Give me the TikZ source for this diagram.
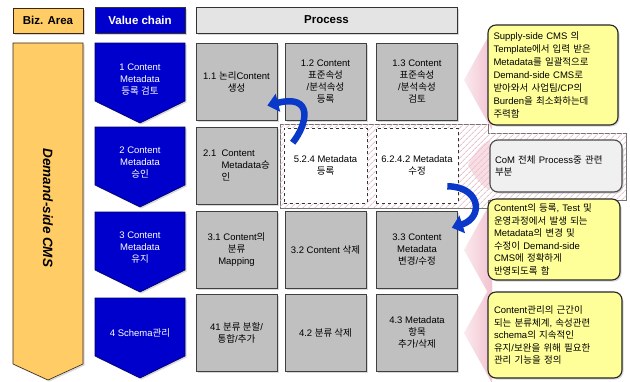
\documentclass[tikz,border=0pt]{standalone}
\usepackage{fontspec}
\setmainfont{Liberation Sans}
\newfontfamily\kr{Noto Sans CJK KR}
\usetikzlibrary{arrows.meta,shadows,patterns.meta,calc}
\newcommand\hk[1]{{\kr #1}}
\definecolor{orng}{HTML}{FFCC66}
\definecolor{vblue}{HTML}{0000CC}
\definecolor{cellgray}{HTML}{C0C0C0}
\definecolor{hdrgray}{HTML}{E4E4E4}
\definecolor{yel}{HTML}{FFFF99}
\definecolor{pinkc}{HTML}{F2C2CF}
\definecolor{hatchc}{HTML}{E6C6CE}
\definecolor{arrblue}{HTML}{0A38C8}
\definecolor{comgray}{HTML}{F0F0F0}
\begin{document}
\begin{tikzpicture}[x=1pt,y=-1pt,
  font=\fontsize{9.5}{12}\selectfont,
  shd/.style={drop shadow={shadow xshift=1.5pt,shadow yshift=-1.5pt,fill=black!30}},
  hdr/.style={draw=black!80, line width=0.6pt, font=\fontsize{11.5}{13}\selectfont\bfseries, inner sep=0pt, shd},
  cell/.style={draw=black!75, fill=cellgray, line width=0.6pt, minimum width=81pt, minimum height=77pt, inner sep=1pt, align=center, shd},
  dcell/.style={draw=black!80, dashed, fill=white, line width=0.6pt, minimum height=75pt, inner sep=1pt, align=center},
  chev/.style={draw=black!60!blue, fill=vblue, line width=0.6pt, shd},
  chevtext/.style={text=white, align=center, inner sep=0pt},
  note/.style={draw=black!85, fill=yel, line width=1.1pt, rounded corners=8pt, align=left, inner sep=0pt, font=\fontsize{9.5}{12.5}\selectfont, shd},
  pinkarrow/.style={left color=pinkc!35, right color=pinkc},
  barrow/.style={draw=arrblue, line width=6.5pt, -{Triangle[width=18pt,length=11pt]}}
]
\useasboundingbox (0,0) rectangle (630,381);
\fill[white] (0,0) rectangle (630,381);

% pink arrows behind the notes
\foreach \yc in {80,250,333}{
  \shade[pinkarrow] (464,\yc) -- (492,\yc-50) -- (492,\yc+50) -- cycle;
}

% hatched region
\path[draw=black!55, line width=0.6pt, fill=white] (280,124) -- (488,124) -- (488,133) -- (626,133) -- (626,200) -- (488,200) -- (488,208) -- (280,208) -- cycle;
\path[pattern={Lines[angle=45,distance=4pt,line width=1pt]}, pattern color=hatchc] (280,124) -- (488,124) -- (488,133) -- (626,133) -- (626,200) -- (488,200) -- (488,208) -- (280,208) -- cycle;
\fill[pinkc, opacity=0.55] (468,165) .. controls (476,150) and (484,142) .. (490,140) -- (490,190) .. controls (484,188) and (476,180) .. (468,165) -- cycle;

% headers
\node[hdr, fill=orng, draw=black!70!brown, minimum width=70pt, minimum height=25pt] (hbiz) at (48,20.5) {Biz. Area};
\node[hdr, fill=vblue, text=white, minimum width=90pt, minimum height=26pt] (hval) at (140,20) {Value chain};
\node[hdr, fill=hdrgray, minimum width=261pt, minimum height=26pt] (hproc) at (326.5,20) {Process};

% biz area
\path[draw=black!70!brown, fill=orng, line width=0.6pt, shd] (13,43) -- (83,43) -- (83,364) -- (48,380) -- (13,364) -- cycle;
\node[rotate=-90, font=\fontsize{13.5}{15}\selectfont\bfseries\itshape] (biz) at (48,208) {Demand-side CMS};

% value chain chevrons
\foreach \t in {43,127,212,298}{
  \path[chev] (95,\t) -- (185,\t) -- (185,\t+58) -- (140,\t+80) -- (95,\t+58) -- cycle;
}
\node[chevtext] (v1) at (140,80) {1 Content\\Metadata\\\hk{등록 검토}};
\node[chevtext] (v2) at (140,163) {2 Content\\Metadata\\\hk{승인}};
\node[chevtext] (v3) at (140,248) {3 Content\\Metadata\\\hk{유지}};
\node[chevtext] (v4) at (140,333) {4 Schema\hk{관리}};

% process cells
\node[cell] (c11) at (236.5,81.5) {1.1 \hk{논리}Content\\\hk{생성}};
\node[cell] (c12) at (325.5,81.5) {1.2 Content\\\hk{표준속성}\\/\hk{분석속성}\\\hk{등록}};
\node[cell] (c13) at (417,81.5) {1.3 Content\\\hk{표준속성}\\/\hk{분석속성}\\\hk{검토}};

\node[cell, align=left] (c21) at (236.5,165.5) {2.1\ \ Content\\\phantom{2.1\ \ }Metadata\hk{승}\\\phantom{2.1\ \ }\hk{인}};
\node[dcell, minimum width=83pt] (c22) at (325.5,165.5) {5.2.4 Metadata\\\hk{등록}};
\node[dcell, minimum width=82pt] (c23) at (417,165.5) {6.2.4.2 Metadata\\\hk{수정}};

\node[cell] (c31) at (236.5,249.5) {3.1 Content\hk{의}\\\hk{분류}\\Mapping};
\node[cell] (c32) at (325.5,249.5) {3.2 Content \hk{삭제}};
\node[cell] (c33) at (417,249.5) {3.3 Content\\Metadata\\\hk{변경}/\hk{수정}};

\node[cell] (c41) at (236.5,332.5) {41 \hk{분류 분할}/\\\hk{통합}/\hk{추가}};
\node[cell] (c42) at (325.5,332.5) {4.2 \hk{분류 삭제}};
\node[cell] (c43) at (417,332.5) {4.3 Metadata\\\hk{항목}\\\hk{추가}/\hk{삭제}};

% notes
\node[note, minimum width=130pt, minimum height=100pt, text width=119pt, font=\fontsize{9.5}{13}\selectfont] (n1) at (553,75)
 {Supply-side CMS \hk{의}\\Template\hk{에서 입력 받은}\\Metadata\hk{를 일괄적으로}\\Demand-side CMS\hk{로}\\\hk{받아와서 사업팀}/CP\hk{의}\\Burden\hk{을 최소화하는데}\\\hk{주력함}};
\node[note, fill=comgray, draw=black!70, minimum width=132pt, minimum height=52pt, text width=122pt] (n2) at (556,166)
 {CoM \hk{전체} Process\hk{중 관련}\\\hk{부분}};
\node[note, minimum width=132pt, minimum height=81pt, text width=120pt] (n3) at (554,239.5)
 {Content\hk{의 등록}, Test \hk{및}\\\hk{운영과정에서 발생 되는}\\Metadata\hk{의 변경 및}\\\hk{수정이} Demand-side\\CMS\hk{에 정확하게}\\\hk{반영되도록 함}};
\node[note, minimum width=134pt, minimum height=86pt, text width=122pt] (n4) at (555,335)
 {Content\hk{관리의 근간이}\\\hk{되는 분류체계}, \hk{속성관련}\\schema\hk{의 지속적인}\\\hk{유지}/\hk{보완을 위해 필요한}\\\hk{관리 기능을 정의}};

% curved blue arrows
\draw[barrow] ($(c22.north west)+(9,15)$) .. controls ($(c22.north west)+(24,-4)$) and ($(c22.north west)+(30,-34)$) .. ($(c11.east)+(-10,24)$);
\draw[barrow] ($(c23.south east)+(-11,-17)$) .. controls ($(c23.south east)+(22,-17)$) and ($(c23.south east)+(26,14)$) .. ($(c33.north east)+(-6,17)$);
\end{tikzpicture}
\end{document}
